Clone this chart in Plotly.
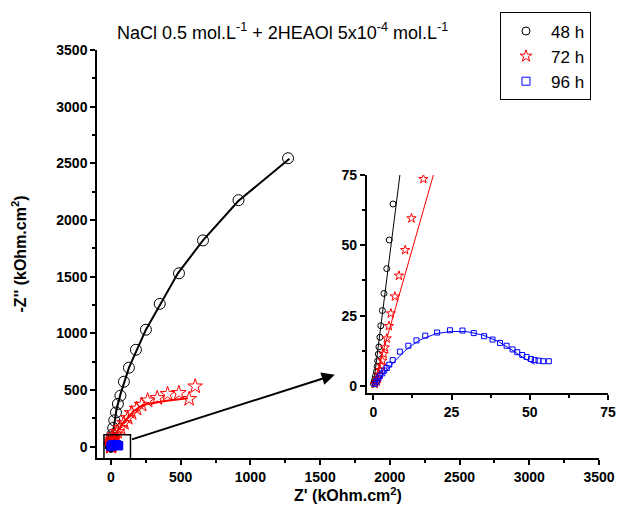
import plotly.graph_objects as go

# ---- data ----
h48_x = [0.1, 0.3, 0.5, 0.7, 1.0, 1.2, 1.4, 1.6, 1.8, 2.1, 2.4, 2.9, 3.4, 4.3, 5.1, 6.3,
         8.0, 10, 16, 24, 36, 50, 68, 93, 129, 179, 251, 350, 488, 660, 915, 1270]
h48_y = [0.7, 1.4, 2.4, 3.6, 5.1, 6.9, 8.9, 11.3, 13.9, 17.3, 21.4, 26.8, 32.9, 41.7, 51.9, 64.7,
         84, 106, 165, 232, 302, 377, 450, 573, 697, 855, 1032, 1260, 1530, 1820, 2175, 2545]
fit48_x = [0, 8.5, 20, 40, 70, 130, 250, 480, 660, 915, 1280]
fit48_y = [0, 75, 200, 330, 470, 700, 1030, 1530, 1820, 2170, 2540]

h72_x = [0.5, 1.1, 1.5, 1.9, 2.2, 2.6, 2.9, 3.3, 3.7, 4.3, 5.0, 5.6, 6.9, 8.2, 10.2, 12.2, 16.0,
         28, 45, 69, 93, 120, 148, 184, 220, 263, 332, 406, 487, 561, 604]
h72_y = [0.7, 1.5, 2.6, 3.9, 5.7, 7.2, 9.0, 11.4, 13.7, 16.9, 21.3, 25.8, 31.8, 39.2, 48.3, 59.6, 73.6,
         100, 130, 165, 209, 253, 297, 335, 370, 408, 429, 465, 474, 421, 532]
fit72_x = [0, 19.2, 41, 88, 160, 231, 399, 552]
fit72_y = [0, 75, 123, 209, 311, 370, 405, 428]

h96_x = [0.5, 1.1, 1.6, 2.1, 2.9, 3.5, 4.3, 5.1, 6.2, 8.5, 11.2, 13.8, 16.6, 20.4, 24.5, 28.5,
         32.1, 35.4, 38.1, 40.5, 42.6, 44.5, 46.0, 47.6, 49.0, 50.4, 51.6, 52.8, 54.3, 56.1]
h96_y = [0.7, 1.5, 2.7, 3.6, 4.5, 5.5, 6.4, 7.6, 9.2, 12.2, 14.3, 16.2, 17.9, 19.0, 19.8, 19.7,
         18.8, 17.7, 16.5, 15.3, 14.3, 13.0, 12.0, 11.0, 10.3, 9.6, 9.2, 9.0, 8.8, 8.8]
fit96_x = [0, 2.5, 5, 7.5, 10, 12.5, 15, 20, 25, 30, 35, 40, 45, 48, 51.5]
fit96_y = [0, 3.3, 6.5, 9.6, 12.4, 14.6, 16.4, 18.6, 19.4, 19.3, 18.1, 15.8, 12.3, 10.0, 7.7]

labels = ["48 h", "72 h", "96 h"]
colors = ["black", "red", "blue"]
symbols = ["circle-open", "star-open", "square-open"]

FONT = "Liberation Sans, Arial, sans-serif"

fig = go.Figure()

series = [(h48_x, h48_y, fit48_x, fit48_y), (h72_x, h72_y, fit72_x, fit72_y),
          (h96_x, h96_y, fit96_x, fit96_y)]
main_sizes = [11, 11, 8]
inset_sizes = [6, 7, 5]
legend_sizes = [8, 9, 8]

for i, (sx, sy, fx, fy) in enumerate(series):
    # main plot
    fig.add_trace(go.Scatter(x=fx, y=fy, mode="lines", line=dict(color=colors[i], width=2),
                             showlegend=False, xaxis="x", yaxis="y", hoverinfo="skip"))
    fig.add_trace(go.Scatter(x=sx, y=sy, mode="markers", name=labels[i], showlegend=False,
                             marker=dict(symbol=symbols[i], color=colors[i], size=main_sizes[i],
                                         line=dict(width=1, color=colors[i])),
                             xaxis="x", yaxis="y"))
    # inset
    fig.add_trace(go.Scatter(x=fx, y=fy, mode="lines", line=dict(color=colors[i], width=1),
                             showlegend=False, xaxis="x2", yaxis="y2", hoverinfo="skip"))
    fig.add_trace(go.Scatter(x=sx, y=sy, mode="markers", showlegend=False,
                             marker=dict(symbol=symbols[i], color=colors[i], size=inset_sizes[i],
                                         line=dict(width=1, color=colors[i])),
                             xaxis="x2", yaxis="y2"))

# legend entries (marker only)
for i in range(3):
    fig.add_trace(go.Scatter(x=[None], y=[None], mode="markers", name=labels[i],
                             marker=dict(symbol=symbols[i], color=colors[i], size=legend_sizes[i],
                                         line=dict(width=1, color=colors[i])),
                             xaxis="x", yaxis="y"))

tickfont = dict(family=FONT, size=14, color="black", weight="bold")
axis_common = dict(showgrid=False, zeroline=False, showline=True, linecolor="black", linewidth=1.5,
                   ticks="outside", ticklen=5, tickwidth=1.5, tickcolor="black", tickfont=tickfont,
                   mirror=False)

fig.update_layout(
    width=618, height=506,
    margin=dict(l=97, r=0, t=50, b=48, autoexpand=False),
    paper_bgcolor="white", plot_bgcolor="white",
    font=dict(family=FONT, color="black"),
    xaxis=dict(domain=[0, 0.9635], range=[-100, 3500], dtick=500, tick0=0,
               minor=dict(dtick=250, ticks="outside", ticklen=3, tickcolor="black"),
               title=dict(text="Z' (kOhm.cm<sup>2</sup>)", standoff=4,
                          font=dict(family=FONT, size=16, weight="bold")),
               **axis_common),
    yaxis=dict(domain=[0, 1], range=[-100, 3500], dtick=500, tick0=0,
               minor=dict(dtick=250, ticks="outside", ticklen=3, tickcolor="black"),
               title=dict(text="-Z'' (kOhm.cm<sup>2</sup>)", standoff=26,
                          font=dict(family=FONT, size=16, weight="bold")),
               **axis_common),
    xaxis2=dict(domain=[0.5177, 0.9808], range=[-2.1, 75], dtick=25, tick0=0, anchor="y2",
                minor=dict(dtick=12.5, ticks="outside", ticklen=3, tickcolor="black"),
                **axis_common),
    yaxis2=dict(domain=[0.1586, 0.6936], range=[-2.6, 75], dtick=25, tick0=0, anchor="x2",
                minor=dict(dtick=12.5, ticks="outside", ticklen=3, tickcolor="black"),
                **axis_common),
    legend=dict(x=0.7735, y=1.092, xanchor="left", yanchor="top",
                bordercolor="black", borderwidth=1, bgcolor="white",
                font=dict(family=FONT, size=17, color="black"),
                itemsizing="trace", itemwidth=40, tracegroupgap=0),
    showlegend=True,
)

fig.add_shape(type="rect", xref="x", yref="y", x0=-50, x1=140, y0=-110, y1=105,
              line=dict(color="black", width=1.5), fillcolor="rgba(0,0,0,0)")

fig.add_annotation(x=1605, y=635, ax=140, ay=60, xref="x", yref="y", axref="x", ayref="y",
                   showarrow=True, arrowhead=2, arrowsize=1.3, arrowwidth=2, arrowcolor="black",
                   text="")

fig.add_annotation(x=0.357, y=1.078, xref="paper", yref="paper", showarrow=False,
                   text="NaCl 0.5 mol.L<sup>-1</sup> + 2HEAOl 5x10<sup>-4</sup> mol.L<sup>-1</sup>",
                   font=dict(family=FONT, size=18, color="black"))

fig.write_html("out.html", config={"displayModeBar": False},
               post_script="document.body.style.margin='0';")
